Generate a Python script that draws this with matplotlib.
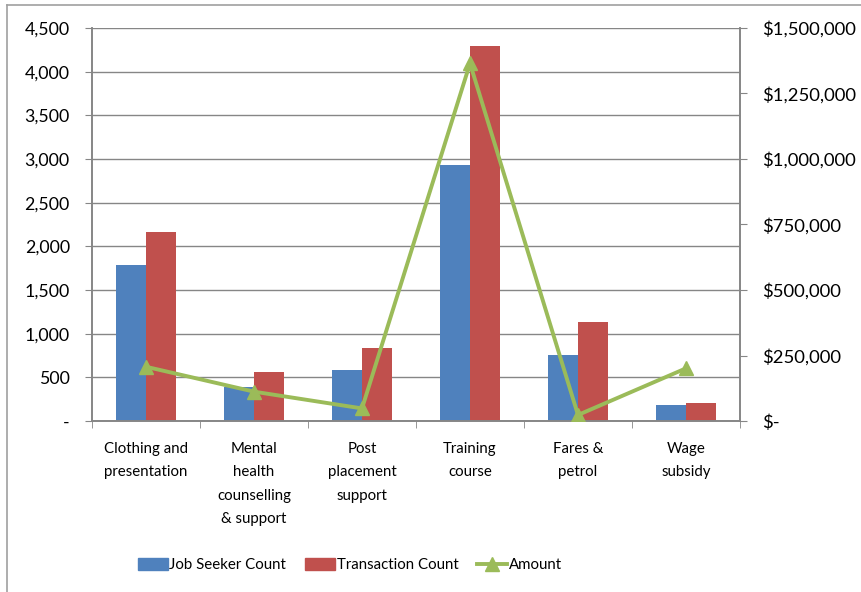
import numpy as np
import matplotlib
matplotlib.use("Agg")
import matplotlib.pyplot as plt
from matplotlib.patches import Patch
from matplotlib.lines import Line2D
from matplotlib.ticker import FuncFormatter, MultipleLocator

plt.rcParams['font.family'] = ['Lato', 'DejaVu Sans']

categories = ["Clothing and\npresentation", "Mental\nhealth\ncounselling\n& support",
              "Post\nplacement\nsupport", "Training\ncourse", "Fares &\npetrol", "Wage\nsubsidy"]
job_seekers = [1786, 393, 584, 2931, 752, 183]
transactions = [2167, 565, 840, 4294, 1134, 203]
amount = [207000, 112000, 48000, 1365000, 23000, 201000]

blue = "#4F81BD"
red = "#C0504D"
green = "#9BBB59"
gray = "#868686"

fig = plt.figure(figsize=(8.62, 5.92), dpi=100)
ax = fig.add_axes([92/862, 1-421/592, 648/862, 393/592])
ax2 = ax.twinx()

x = np.arange(len(categories))
w = 0.28
ax.bar(x - w/2, job_seekers, w, color=blue, zorder=2)
ax.bar(x + w/2, transactions, w, color=red, zorder=2)
ax2.plot(x, amount, color=green, lw=2.8, marker="^", markersize=10, zorder=3)

ax.set_xlim(-0.5, len(categories) - 0.5)
ax.set_ylim(0, 4500)
ax2.set_ylim(0, 1500000)
ax.yaxis.set_major_locator(MultipleLocator(500))
ax2.yaxis.set_major_locator(MultipleLocator(250000))
ax.yaxis.set_major_formatter(FuncFormatter(lambda v, p: "-" if v == 0 else f"{v:,.0f}"))
ax2.yaxis.set_major_formatter(FuncFormatter(lambda v, p: "$-" if v == 0 else f"${v:,.0f}"))
ax.grid(axis="y", color=gray, lw=1.0, zorder=0)
ax.set_axisbelow(True)

ax.set_xticks(x)
ax.set_xticklabels(categories, fontsize=10.8, linespacing=1.85, va="top")
ax.tick_params(axis="x", length=0, pad=15)
ax.set_xticks(np.arange(-0.5, len(categories)), minor=True)
ax.tick_params(axis="x", which="minor", length=5, color=gray, direction="out")
ax.tick_params(axis="y", length=5, color=gray, labelsize=12.8, pad=11)
ax2.tick_params(axis="y", length=5, color=gray, labelsize=13.3, pad=11)

for a in (ax, ax2):
    a.spines["top"].set_visible(False)
    for s in ("left", "right", "bottom"):
        a.spines[s].set_color(gray)
        a.spines[s].set_linewidth(1.2)

handles = [Patch(color=blue, label="Job Seeker Count"),
           Patch(color=red, label="Transaction Count"),
           Line2D([], [], color=green, lw=2.8, marker="^", markersize=10, label="Amount")]
fig.legend(handles=handles, loc="center", bbox_to_anchor=(350/862, 1-565/592), ncol=3,
           frameon=False, fontsize=10.8, handlelength=2.0, handleheight=0.9,
           handletextpad=0.12, columnspacing=1.25)

fig.add_artist(Line2D([7/862, 1], [1-5/592, 1-5/592], color="#A0A0A0", lw=1.2, transform=fig.transFigure))
fig.add_artist(Line2D([7/862, 7/862], [0, 1-5/592], color="#A0A0A0", lw=1.2, transform=fig.transFigure))

fig.savefig("out.png", dpi=100)
